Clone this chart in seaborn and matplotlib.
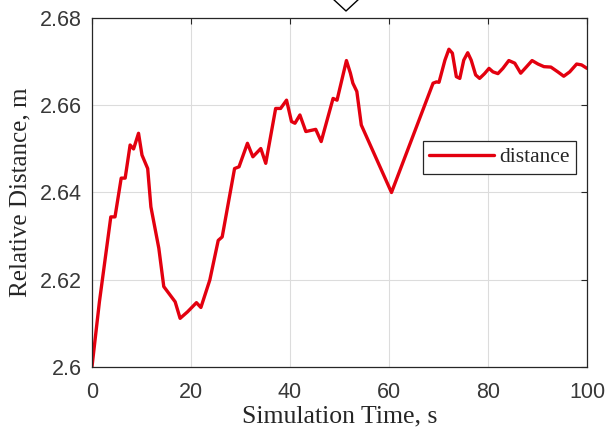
import matplotlib
matplotlib.use("Agg")
import matplotlib.pyplot as plt
from matplotlib.lines import Line2D
import seaborn as sns
import pandas as pd

# Simulation time (s) and relative distance (m)
time_s = [0.0, 1.5, 3.8, 4.65, 5.9, 6.7, 7.7, 8.4, 9.4, 10.1, 11.25, 11.9, 13.5,
          14.5, 16.8, 17.3, 17.8, 19.3, 21.1, 22.0, 23.8, 25.5, 26.3, 28.8, 29.7,
          31.4, 32.5, 34.1, 35.1, 37.1, 38.1, 39.3, 40.3, 41.0, 42.0, 43.2, 45.2,
          46.3, 48.7, 49.5, 51.4, 52.2, 52.7, 53.5, 54.4, 60.5, 68.9, 69.6, 70.1,
          71.3, 72.1, 72.8, 73.6, 74.3, 75.1, 75.9, 76.6, 77.5, 78.3, 79.3, 80.2,
          81.0, 82.0, 83.0, 84.2, 85.4, 86.6, 87.8, 88.9, 90.1, 91.3, 92.7, 94.1,
          95.3, 96.5, 97.9, 98.9, 100.0]
distance_m = [2.6000, 2.6149, 2.6344, 2.6344, 2.6433, 2.6433, 2.6509, 2.6500, 2.6536,
              2.6486, 2.6455, 2.6367, 2.6272, 2.6184, 2.6149, 2.6130, 2.6111, 2.6126,
              2.6147, 2.6136, 2.6199, 2.6290, 2.6298, 2.6455, 2.6459, 2.6513, 2.6482,
              2.6501, 2.6467, 2.6593, 2.6593, 2.6612, 2.6563, 2.6559, 2.6578, 2.6540,
              2.6545, 2.6517, 2.6616, 2.6612, 2.6703, 2.6674, 2.6651, 2.6632, 2.6555,
              2.6400, 2.6651, 2.6654, 2.6653, 2.6704, 2.6729, 2.6720, 2.6666, 2.6662,
              2.6704, 2.6721, 2.6704, 2.6670, 2.6662, 2.6673, 2.6685, 2.6677, 2.6673,
              2.6685, 2.6703, 2.6697, 2.6674, 2.6689, 2.6703, 2.6695, 2.6689, 2.6688,
              2.6677, 2.6667, 2.6677, 2.6695, 2.6693, 2.6685]

x_ticks = [0, 20, 40, 60, 80, 100]
y_ticks = [2.60, 2.62, 2.64, 2.66, 2.68]
y_tick_labels = ["2.6", "2.62", "2.64", "2.66", "2.68"]

df = pd.DataFrame({"time": time_s, "distance": distance_m})

sns.set_theme(style="white")
plt.rcParams["font.family"] = ["Liberation Sans", "DejaVu Sans"]

fig = plt.figure(figsize=(6.08, 4.37), dpi=100)
ax = fig.add_axes([0.1513, 0.1609, 0.8142, 0.7972])

sns.lineplot(data=df, x="time", y="distance", ax=ax, color="#e3000f",
             linewidth=2.4, label="distance", sort=False)

ax.set_xlim(0, 100)
ax.set_ylim(2.60, 2.68)
ax.set_xticks(x_ticks)
ax.set_xticklabels([str(t) for t in x_ticks])
ax.set_yticks(y_ticks)
ax.set_yticklabels(y_tick_labels)

ax.grid(True, color="#dcdcdc", linewidth=0.8)
ax.set_axisbelow(True)

for side in ["left", "right", "top", "bottom"]:
    ax.spines[side].set_visible(True)
    ax.spines[side].set_color("#262626")
    ax.spines[side].set_linewidth(0.9)

ax.tick_params(axis="both", which="both", direction="in", length=4, width=0.8,
               colors="#262626", labelsize=15.5, top=True, right=True,
               labeltop=False, labelright=False)
ax.tick_params(axis="x", pad=11)
ax.tick_params(axis="y", pad=7.5)
for lbl in ax.get_xticklabels() + ax.get_yticklabels():
    lbl.set_color("#383838")

serif = ["Liberation Serif", "DejaVu Serif"]
ax.set_xlabel("Simulation Time, s", family=serif, fontsize=18.5, color="#262626",
              labelpad=2)
ax.set_ylabel("Relative Distance, m", family=serif, fontsize=18, color="#262626",
              labelpad=6)

leg = ax.legend(loc="upper left", bbox_to_anchor=(0.668, 0.648), borderaxespad=0,
                fancybox=False, edgecolor="#262626", framealpha=1,
                prop={"family": serif, "size": 15.5}, handlelength=3.0,
                handletextpad=0.25, borderpad=0.3)
leg.get_frame().set_linewidth(0.9)

# small chevron at the top edge of the figure
fig.add_artist(Line2D([332 / 608, 346 / 608, 360 / 608],
                      [1 + 2 / 437, 1 - 11 / 437, 1 + 2 / 437],
                      transform=fig.transFigure, color="black", linewidth=1.0))

fig.savefig("out.png", dpi=100)
